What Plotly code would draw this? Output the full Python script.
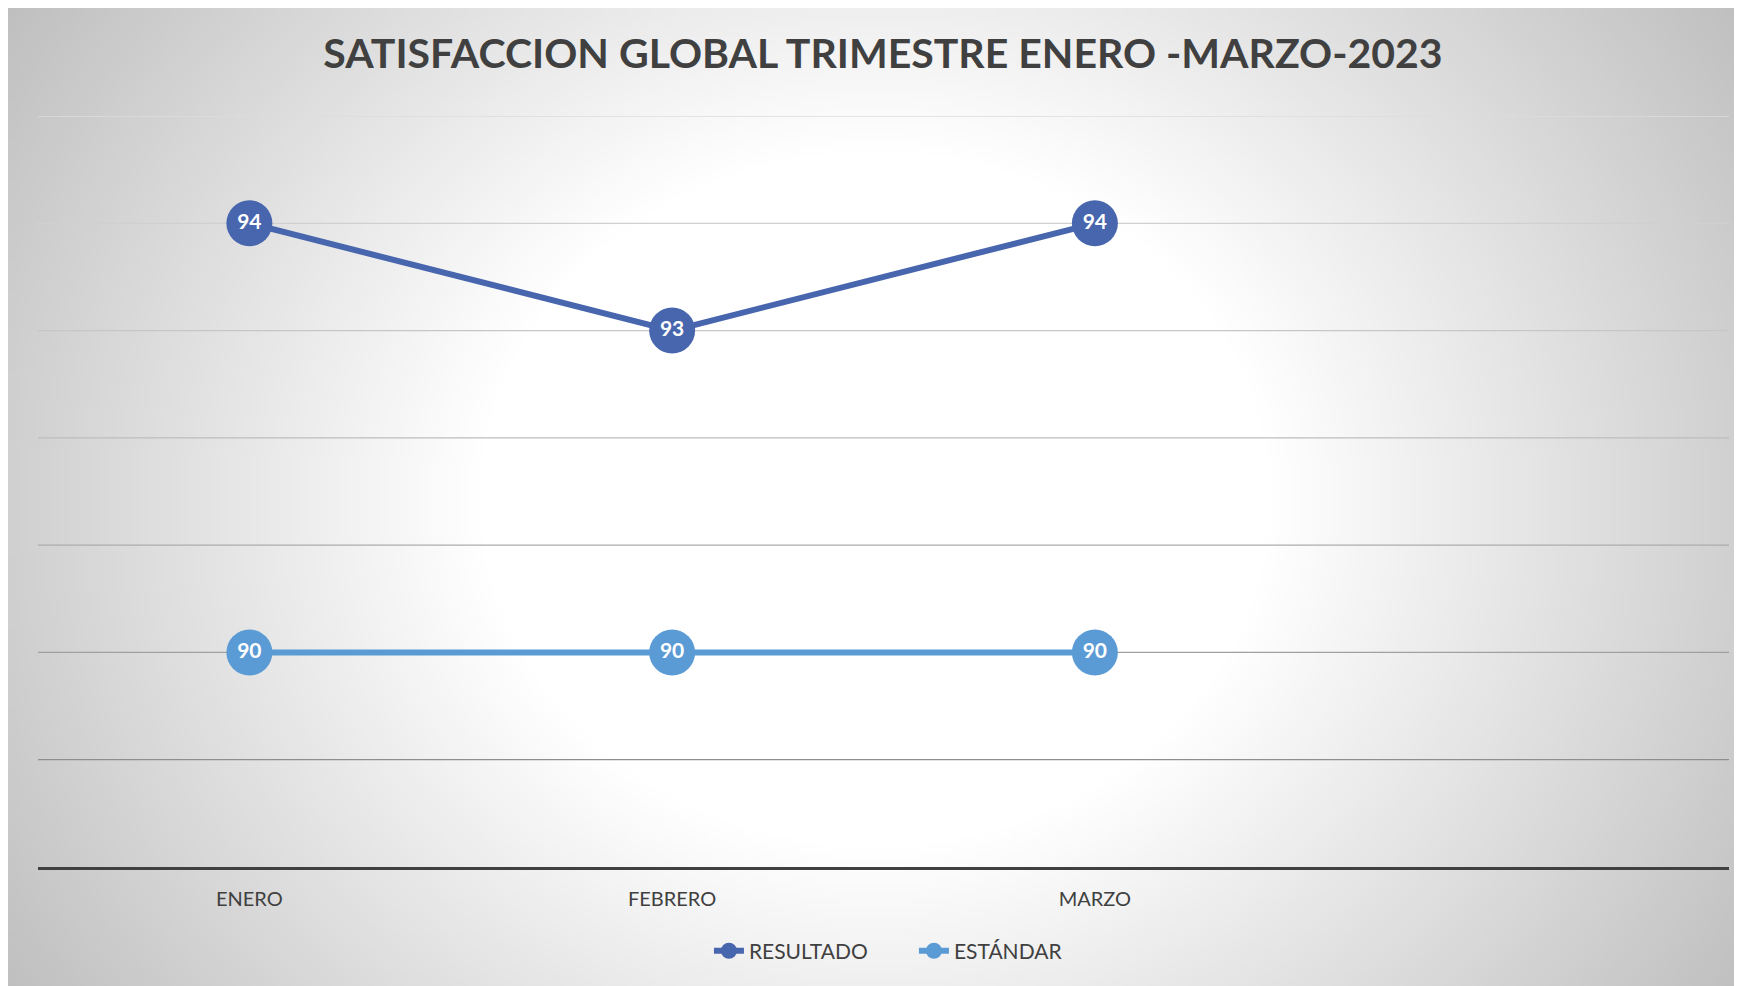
import base64
import struct
import zlib

import numpy as np
import plotly.graph_objects as go

# ---- data ----
months = ["ENERO", "FEBRERO", "MARZO"]
resultado = [94, 93, 94]
estandar = [90, 90, 90]
grid_values = [89, 90, 91, 92, 93, 94, 95]
grid_colors = ["#8e8e8e", "#a0a0a0", "#acacac", "#bdbdbd", "#c6c6c6", "#d0d0d0", "#dcdcdc"]

W, H = 1742, 986
# the page body has an 8px margin, so everything is placed 8px up/left
M_L, M_R, M_T, M_B = 30, 21, 108, 127


def radial_png(w, h, scale):
    # white plateau in the middle fading to grey towards the edges
    yy, xx = np.mgrid[0:h, 0:w]
    dx = (xx - (w - 1) / 2) * scale
    dy = (yy - (h - 1) / 2) * scale * 1.14
    d = np.sqrt(dx ** 2 + dy ** 2)
    t = np.clip((d - 400) / 640, 0, 1)
    g = (255 - 64 * t).astype(np.uint8)
    raw = b"".join(b"\x00" + g[r].tobytes() for r in range(h))

    def chunk(tag, data):
        c = struct.pack(">I", len(data)) + tag + data
        return c + struct.pack(">I", zlib.crc32(tag + data) & 0xFFFFFFFF)

    png = b"\x89PNG\r\n\x1a\n"
    png += chunk(b"IHDR", struct.pack(">IIBBBBB", w, h, 8, 0, 0, 0, 0))
    png += chunk(b"IDAT", zlib.compress(raw, 9))
    png += chunk(b"IEND", b"")
    return "data:image/png;base64," + base64.b64encode(png).decode()


pw = W - M_L - M_R
ph = H - M_T - M_B

fig = go.Figure()

for name, vals, color in [("RESULTADO", resultado, "#4866AE"),
                          ("ESTÁNDAR", estandar, "#5B9BD5")]:
    fig.add_trace(go.Scatter(
        x=months, y=vals, name=name,
        mode="lines+markers+text",
        line=dict(color=color, width=6),
        marker=dict(size=46, color=color),
        text=[str(v) for v in vals], textposition="middle center",
        textfont=dict(family="Lato", size=21, color="white", weight="bold"),
        cliponaxis=False,
    ))

# graded gridlines
for v, c in zip(grid_values, grid_colors):
    fig.add_shape(type="line", xref="paper", x0=0, x1=1, yref="y", y0=v, y1=v,
                  line=dict(color=c, width=1.3), layer="below")

fig.add_layout_image(dict(
    source=radial_png(348, 196, 5.0),
    xref="paper", yref="paper",
    x=-M_L / pw, y=(H - M_B) / ph,
    sizex=(W - 8) / pw, sizey=(H - 4) / ph,
    xanchor="left", yanchor="top", sizing="stretch", layer="below",
))

fig.update_layout(
    width=W, height=H,
    margin=dict(l=M_L, r=M_R, t=M_T, b=M_B),
    paper_bgcolor="#f2f2f2",
    plot_bgcolor="rgba(0,0,0,0)",
    title=dict(text="<b>SATISFACCION GLOBAL TRIMESTRE ENERO -MARZO-2023</b>",
               x=0.5023, xanchor="center", y=0.9533, yanchor="middle",
               font=dict(family="Lato", size=41, color="#404040")),
    xaxis=dict(type="category", range=[-0.5, 3.5], showgrid=False,
               showline=True, linecolor="#404040", linewidth=3,
               ticks="", ticklabelstandoff=12,
               tickfont=dict(family="Lato", size=20, color="#404040")),
    yaxis=dict(range=[88, 95], showgrid=False, zeroline=False,
               showticklabels=False),
    legend=dict(orientation="h", x=0.518, xanchor="center", y=-0.112, yanchor="middle",
                font=dict(family="Lato", size=21, color="#404040"),
                bgcolor="rgba(0,0,0,0)", entrywidth=160, entrywidthmode="pixels"),
    showlegend=True,
)

fig.write_html("out.html")
